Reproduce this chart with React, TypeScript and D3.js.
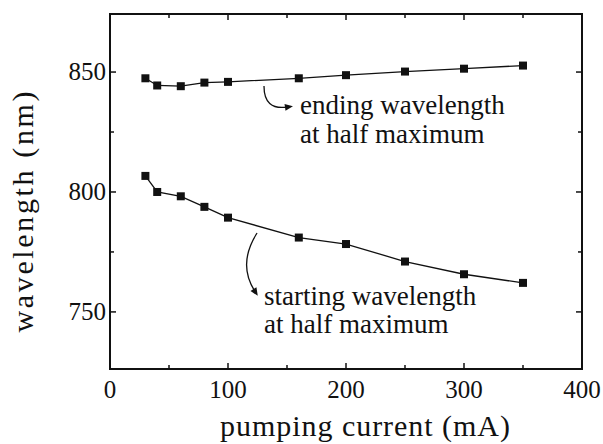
import React from 'react';
import * as d3 from 'd3';

// pumping current (mA) at which both wavelengths were measured
const currents = [30, 40, 60, 80, 100, 160, 200, 250, 300, 350];
// ending wavelength at half maximum (nm)
const endingWl = [847.4, 844.4, 844.1, 845.6, 845.9, 847.4, 848.7, 850.2, 851.4, 852.7];
// starting wavelength at half maximum (nm)
const startingWl = [806.7, 800.0, 798.2, 793.8, 789.3, 781.0, 778.3, 771.0, 765.7, 762.1];

const xMajor = [0, 100, 200, 300, 400];
const xMinor = [50, 150, 250, 350];
const yMajor = [750, 800, 850];
const yMinor = [775, 825];

const ink = '#111';
const txt = (size: number) => ({ fontFamily: "'Times New Roman'", fontSize: size + 'px' });

const App = () => {
  const width = 603;
  const height = 444;
  const left = 110, right = 582, top = 14, bottom = 369;

  const x = d3.scaleLinear().domain([0, 400]).range([left, right]);
  const y = d3.scaleLinear().domain([726.2, 874.2]).range([bottom, top]);

  const line = d3.line()
    .x((_, i) => x(currents[i]))
    .y(d => y(d));

  // curved annotation arrows, in data units
  const arrows = [
    [[130.5, 844.2], [130.5, 834], [150, 835.4]],
    [[124.6, 782.9], [108, 770], [122.5, 758.8]],
  ];

  const series = [endingWl, startingWl];

  return (
    <svg width={width} height={height} style={{ position: 'absolute', left: 0, top: 0 }}>
      {/* frame */}
      <rect x={left} y={top} width={right - left} height={bottom - top} fill="none" stroke={ink} strokeWidth={2} />

      {/* ticks, pointing inward on all four sides */}
      {xMajor.concat(xMinor).map(v => {
        const len = xMajor.includes(v) ? 6 : 4;
        return (
          <g key={'x' + v} stroke={ink} strokeWidth={1.5}>
            <line x1={x(v)} x2={x(v)} y1={bottom} y2={bottom - len} />
            <line x1={x(v)} x2={x(v)} y1={top} y2={top + len} />
          </g>
        );
      })}
      {yMajor.concat(yMinor).map(v => {
        const len = yMajor.includes(v) ? 6 : 4;
        return (
          <g key={'y' + v} stroke={ink} strokeWidth={1.5}>
            <line x1={left} x2={left + len} y1={y(v)} y2={y(v)} />
            <line x1={right} x2={right - len} y1={y(v)} y2={y(v)} />
          </g>
        );
      })}

      {/* tick labels */}
      {xMajor.map(v => (
        <text key={'xl' + v} x={x(v)} y={398} textAnchor="middle" style={txt(25)} fill={ink}>{v}</text>
      ))}
      {yMajor.map(v => (
        <text key={'yl' + v} x={left - 4} y={y(v) + 8} textAnchor="end" style={txt(25)} fill={ink}>{v}</text>
      ))}

      {/* axis titles */}
      <text x={365} y={436} textAnchor="middle" style={txt(30)} fill={ink}
        textLength={290} lengthAdjust="spacing">pumping current (mA)</text>
      <text transform="translate(33,212) rotate(-90)" textAnchor="middle" style={txt(30)} fill={ink}
        textLength={241} lengthAdjust="spacing">wavelength (nm)</text>

      {/* series */}
      {series.map((s, k) => (
        <g key={'s' + k}>
          <path d={line(s) || ''} fill="none" stroke={ink} strokeWidth={1.3} />
          {s.map((v, i) => (
            <rect key={i} x={x(currents[i]) - 4} y={y(v) - 4} width={8} height={8} fill={ink} />
          ))}
        </g>
      ))}

      {/* annotations */}
      {arrows.map(([p0, c, p1], k) => {
        const x1 = x(p1[0]), y1 = y(p1[1]);
        const cx = x(c[0]), cy = y(c[1]);
        const deg = (Math.atan2(y1 - cy, x1 - cx) * 180) / Math.PI;
        return (
          <g key={'a' + k}>
            <path d={`M${x(p0[0])},${y(p0[1])} Q${cx},${cy} ${x1},${y1}`} fill="none" stroke={ink} strokeWidth={1.3} />
            <path d="M-2,-3.5 L6,0 L-2,3.5 Z" transform={`translate(${x1},${y1}) rotate(${deg})`} fill={ink} />
          </g>
        );
      })}

      <text x={x(161)} y={y(832.5)} style={txt(27)} fill={ink}>ending wavelength</text>
      <text x={x(161)} y={y(820.4)} style={txt(27)} fill={ink}>at half maximum</text>
      <text x={x(130.5)} y={y(752.9)} style={txt(27)} fill={ink}>starting wavelength</text>
      <text x={x(130.5)} y={y(741.2)} style={txt(27)} fill={ink}>at half maximum</text>
    </svg>
  );
};

export default App;
